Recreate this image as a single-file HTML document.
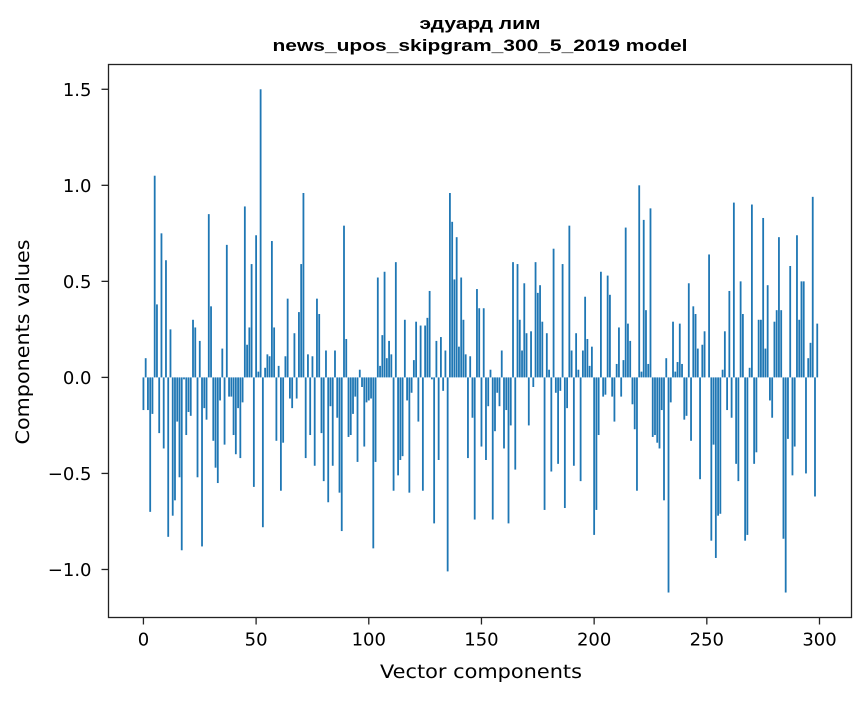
<!DOCTYPE html>
<html><head><meta charset="utf-8"><style>
body{margin:0;background:#fff;}
svg text{font-family:"DejaVu Sans","Liberation Sans",sans-serif;}
</style></head><body>
<svg id="chart" width="867" height="696" xmlns="http://www.w3.org/2000/svg">
<rect width="867" height="696" fill="#fff"/>
<text x="480" y="29" text-anchor="middle" font-size="17" font-weight="bold" textLength="121" lengthAdjust="spacingAndGlyphs" style="font-family:'Liberation Sans',sans-serif">эдуард лим</text>
<text x="480" y="51" text-anchor="middle" font-size="17" font-weight="bold" textLength="415" lengthAdjust="spacingAndGlyphs" style="font-family:'Liberation Sans',sans-serif">news_upos_skipgram_300_5_2019 model</text>
<g id="bars"></g>
<g id="xticks"></g>
<g id="yticks"></g>
<rect x="108.5" y="64.5" width="743" height="553" fill="none" stroke="#222" stroke-width="1.3"/>
<text x="481" y="678" text-anchor="middle" font-size="19" textLength="202" lengthAdjust="spacingAndGlyphs">Vector components</text>
<text x="29" y="342" text-anchor="middle" font-size="19" textLength="205" lengthAdjust="spacingAndGlyphs" transform="rotate(-90 29 342)">Components values</text>
</svg>
<script>
const values = [
-0.17,0.10,-0.17,-0.70,-0.19,1.05,0.38,-0.29,0.75,-0.37,
0.61,-0.83,0.25,-0.72,-0.64,-0.23,-0.52,-0.90,-0.01,-0.30,
-0.18,-0.20,0.30,0.26,-0.52,0.19,-0.88,-0.16,-0.22,0.85,
0.37,-0.33,-0.47,-0.55,-0.12,0.15,-0.35,0.69,-0.10,-0.10,
-0.30,-0.40,-0.16,-0.42,-0.13,0.89,0.17,0.26,0.59,-0.57,
0.74,0.03,1.50,-0.78,0.05,0.12,0.11,0.71,0.26,-0.33,
0.06,-0.59,-0.34,0.11,0.41,-0.11,-0.16,0.23,-0.11,0.34,
0.59,0.96,-0.42,0.12,-0.30,0.11,-0.46,0.41,0.33,-0.29,
-0.54,0.14,-0.65,-0.15,-0.46,0.14,-0.21,-0.60,-0.80,0.79,
0.20,-0.31,-0.30,-0.19,-0.10,-0.44,0.04,-0.05,-0.36,-0.13,
-0.12,-0.11,-0.89,-0.44,0.52,0.06,0.22,0.55,0.10,0.19,
0.12,-0.59,0.60,-0.51,-0.43,-0.41,0.30,-0.12,-0.60,-0.08,
0.09,0.29,-0.23,0.27,-0.59,0.27,0.31,0.45,-0.01,-0.76,
0.19,-0.43,0.21,-0.07,0.14,-1.01,0.96,0.81,0.51,0.73,
0.16,0.52,0.30,0.12,-0.42,0.11,-0.21,-0.74,0.46,0.36,
-0.36,0.36,-0.43,-0.15,0.04,-0.74,-0.28,-0.08,-0.15,0.14,
-0.37,-0.17,-0.76,-0.25,0.60,-0.48,0.59,0.30,0.14,0.49,
0.23,-0.25,0.24,-0.05,0.60,0.44,0.48,0.29,-0.69,0.23,
0.04,-0.49,0.67,-0.08,-0.45,-0.07,0.59,-0.68,-0.16,0.79,
0.14,-0.46,0.23,0.04,-0.54,0.14,0.42,0.20,0.06,0.16,
-0.82,-0.69,-0.30,0.55,-0.10,-0.09,0.53,0.43,-0.10,-0.23,
0.07,0.26,-0.10,0.09,0.78,0.28,0.19,-0.14,-0.27,-0.59,
1.00,0.03,0.82,0.35,0.07,0.88,-0.31,-0.30,-0.34,-0.37,
-0.17,-0.64,0.10,-1.12,-0.13,0.29,0.03,0.08,0.28,0.07,
-0.22,-0.20,0.49,-0.33,0.37,0.33,0.15,-0.53,0.17,0.24,
0.00,0.64,-0.85,-0.35,-0.94,-0.72,-0.71,0.04,0.24,-0.17,
0.45,-0.21,0.91,-0.45,-0.54,0.50,0.33,-0.85,-0.82,0.05,
0.90,-0.45,-0.39,0.30,0.30,0.83,0.15,0.48,-0.12,-0.21,
0.29,0.35,0.73,0.35,-0.84,-1.12,-0.32,0.58,-0.51,-0.36,
0.74,0.30,0.50,0.50,-0.50,0.10,0.18,0.94,-0.62,0.28
];
const xTickLabels = ["0","50","100","150","200","250","300"];
const yTickLabels = ["−1.0","−0.5","0.0","0.5","1.0","1.5"];
const xTickValues = [0,50,100,150,200,250,300];
const yTickValues = [-1.0,-0.5,0.0,0.5,1.0,1.5];

const NS = "http://www.w3.org/2000/svg";
const xMin=-15.5, xMax=314.2, yMin=-1.25, yMax=1.629;
const L=108.5, R=851.5, T=64.5, B=617.5;
function xs(v){return L+(v-xMin)/(xMax-xMin)*(R-L);}
function ys(v){return B-(v-yMin)/(yMax-yMin)*(B-T);}
const barsG=document.getElementById('bars');
const bw=(xs(0.8)-xs(0));
values.forEach((v,i)=>{
  const r=document.createElementNS(NS,'rect');
  const y0=ys(0), y1=ys(v);
  r.setAttribute('x',xs(i)-bw/2);
  r.setAttribute('y',Math.min(y0,y1));
  r.setAttribute('width',bw);
  r.setAttribute('height',Math.max(Math.abs(y1-y0),0.01));
  r.setAttribute('fill','#1f77b4');
  
  
  barsG.appendChild(r);
});
const xg=document.getElementById('xticks');
xTickValues.forEach((v,i)=>{
  const x=xs(v);
  const l=document.createElementNS(NS,'line');
  l.setAttribute('x1',x);l.setAttribute('x2',x);l.setAttribute('y1',B);l.setAttribute('y2',B+7);
  l.setAttribute('stroke','#222');l.setAttribute('stroke-width','1.3');
  
  
  xg.appendChild(l);
  const t=document.createElementNS(NS,'text');
  t.setAttribute('x',x);t.setAttribute('y',B+28);t.setAttribute('text-anchor','middle');t.setAttribute('font-size','18');
  t.textContent=xTickLabels[i];
  
  
  xg.appendChild(t);
});
const yg=document.getElementById('yticks');
yTickValues.forEach((v,i)=>{
  const y=ys(v);
  const l=document.createElementNS(NS,'line');
  l.setAttribute('x1',L-7);l.setAttribute('x2',L);l.setAttribute('y1',y);l.setAttribute('y2',y);
  l.setAttribute('stroke','#222');l.setAttribute('stroke-width','1.3');
  
  
  yg.appendChild(l);
  const t=document.createElementNS(NS,'text');
  t.setAttribute('x',L-17);t.setAttribute('y',y+6.5);t.setAttribute('text-anchor','end');t.setAttribute('font-size','18');
  t.textContent=yTickLabels[i];
  
  
  yg.appendChild(t);
});
</script>
</body></html>
